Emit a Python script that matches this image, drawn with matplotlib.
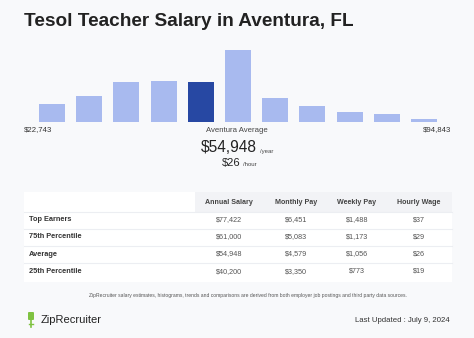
import matplotlib
matplotlib.use("Agg")
import matplotlib.pyplot as plt
from matplotlib.patches import Rectangle, FancyBboxPatch

plt.rcParams['font.family'] = ['Liberation Sans', 'DejaVu Sans']

title = "Tesol Teacher Salary in Aventura, FL"
bar_heights = [17.7, 26, 40.3, 41.3, 40.3, 71.7, 23.7, 16, 10, 7.7, 3]
highlight_index = 4
range_min = "$22,743"
range_max = "$94,843"
avg_year = "$54,948"
avg_hour = "$26"
columns = ["Annual Salary", "Monthly Pay", "Weekly Pay", "Hourly Wage"]
row_labels = ["Top Earners", "75th Percentile", "Average", "25th Percentile"]
table_values = [
    ["$77,422", "$6,451", "$1,488", "$37"],
    ["$61,000", "$5,083", "$1,173", "$29"],
    ["$54,948", "$4,579", "$1,056", "$26"],
    ["$40,200", "$3,350", "$773", "$19"],
]
footnote = ("ZipRecruiter salary estimates, histograms, trends and comparisons are derived "
            "from both employer job postings and third party data sources.")
updated = "Last Updated : July 9, 2024"

W, H = 474, 338
BG = "#f8f9fb"
LIGHT = "#a8baef"
DARK = "#2748a3"
TXT = "#333333"

fig = plt.figure(figsize=(W / 100, H / 100), dpi=100, facecolor=BG)

ov = fig.add_axes([0, 0, 1, 1])
ov.set_xlim(0, W)
ov.set_ylim(H, 0)
ov.axis("off")
ov.set_facecolor(BG)

def px_axes(left, top, width, height):
    return fig.add_axes([left / W, 1 - (top + height) / H, width / W, height / H])

# bars
ax = px_axes(33.4, 47, 409.2, 75)
ax.set_facecolor("none")
xs = list(range(len(bar_heights)))
colors = [DARK if i == highlight_index else LIGHT for i in xs]
ax.bar(xs, bar_heights, width=0.7, color=colors)
ax.set_xlim(-0.5, len(bar_heights) - 0.5)
ax.set_ylim(0, 75)
ax.axis("off")

# title
ov.text(24, 21, title, fontsize=13.7, fontweight="bold", color="#222222",
        ha="left", va="center")

# range labels
ov.text(24, 130, range_min, fontsize=5.6, color=TXT, ha="left", va="center")
ov.text(237, 130, "Aventura Average", fontsize=5.6, color="#444444", ha="center", va="center")
ov.text(451, 130, range_max, fontsize=5.6, color=TXT, ha="right", va="center")

# average
ov.text(257, 148, avg_year, fontsize=11.2, color="#222222", ha="right", va="center")
ov.text(260, 151, "/year", fontsize=4.3, color="#444444", ha="left", va="center")
ov.text(240, 163, avg_hour, fontsize=8, color="#222222", ha="right", va="center")
ov.text(243, 164, "/hour", fontsize=4.3, color="#444444", ha="left", va="center")

# table
tx0, tx1 = 24, 452
ty0 = 191.5
hdr_h = 20
row_h = 17.2
ov.add_patch(Rectangle((tx0, ty0), tx1 - tx0, hdr_h + row_h * len(row_labels) + 2,
                       facecolor="white", edgecolor="none"))
ov.add_patch(Rectangle((195, ty0), tx1 - 195, hdr_h, facecolor="#f2f3f6", edgecolor="none"))
col_x = [229, 296, 357, 419]
for cx, name in zip(col_x, columns):
    ov.text(cx, ty0 + hdr_h / 2 + 0.5, name, fontsize=5.1, fontweight="bold", color="#444444",
            ha="center", va="center")
for r, (lab, vals) in enumerate(zip(row_labels, table_values)):
    yc = ty0 + hdr_h + row_h * r + row_h / 2 - 0.5
    ov.plot([tx0, tx1], [ty0 + hdr_h + row_h * r, ty0 + hdr_h + row_h * r],
            color="#eceef2", lw=0.8)
    ov.text(29, yc, lab, fontsize=5.3, fontweight="bold", color="#333333",
            ha="left", va="center")
    for cx, v in zip(col_x, vals):
        ov.text(cx, yc, v, fontsize=5.2, color="#555555", ha="center", va="center")

# footnote
ov.text(248, 296, footnote, fontsize=3.65, color="#555555", ha="center", va="center")

# logo
ov.add_patch(FancyBboxPatch((28, 312), 6, 8, boxstyle="round,pad=0,rounding_size=1",
                            facecolor="#7fc241", edgecolor="none"))
ov.plot([31, 31], [320, 327], color="#7fc241", lw=1.2)
ov.plot([29, 33], [324, 324], color="#7fc241", lw=1.0)
ov.text(41, 320, "ZipRecruiter", fontsize=8, color="#222222", ha="left", va="center")
ov.text(450, 320, updated, fontsize=5.6, color="#333333", ha="right", va="center")

fig.savefig("out.png", dpi=100, facecolor=BG)
